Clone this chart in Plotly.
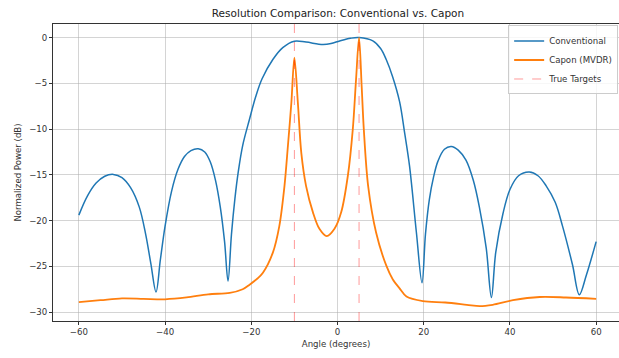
import plotly.graph_objects as go

# Conventional beamformer (angle deg, normalized power dB)
conv_angle = [-60, -58, -56, -54, -52, -50, -48, -46, -44.5, -43.3, -42.1,
              -41.1, -40, -38.5, -37, -35.5, -34, -32.3, -30.8, -29.5, -28.3, -27.2, -26.2, -25.4,
              -24.6, -23.8, -23, -22, -20.4, -19, -17.5, -15, -12.7, -10, -7.3, -3.4, -1.5, 0.5, 3, 5,
              8.2, 10, 11.3, 12.8, 14.4, 15.6, 16.7, 18.3, 19.6,
              20.4, 21.3, 22.3, 23.3, 24.8, 26.4, 28, 29.8, 31.5, 32.9, 34.5, 35.7,
              36.7, 38.4, 40, 42, 44.5, 46.5, 48.4, 50.5, 52.2, 54.5, 56.1, 57.7, 60]
conv_db = [-19.4, -17.3, -15.9, -15.15, -14.95, -15.3, -16.4, -18.5, -21.5, -24.7, -27.8,
           -24.3, -20.6, -16.8, -14.4, -13.0, -12.35, -12.15, -12.5, -13.6, -15.6, -18.5, -22.3, -26.6,
           -21.5, -17.6, -14.6, -11.8, -8.9, -6.5, -4.5, -2.4, -1.1, -0.4, -0.5, -0.75, -0.65, -0.37, -0.08, 0.0,
           -0.37, -1.2, -2.4, -4.3, -7.0, -10.5, -14.0, -21.3, -26.8,
           -21.5, -17.7, -15.2, -13.5, -12.2, -11.9, -12.3, -13.4, -15.6, -18.5, -23.0, -28.4,
           -23.5, -19.2, -16.6, -15.1, -14.7, -15.1, -16.2, -18.0, -20.6, -24.8, -28.1, -26.0, -22.3]

# Capon (MVDR) beamformer
capon_angle = [-60, -55, -50, -45, -40, -35, -30, -25, -22, -20.4, -18.5, -17.3, -15, -13.5, -12.3,
               -11.5, -10.7, -10, -9.2, -8.4, -7.3, -5.7, -4.2, -2.5, -0.7, 0.85, 2.4, 3.55, 4.3,
               5, 5.6, 6.1, 7.1, 8.95, 11.3, 12.8, 14.4, 16, 19.8, 25, 30, 33, 36, 40.7, 46.9, 53, 60]
capon_db = [-28.9, -28.7, -28.5, -28.55, -28.6, -28.4, -28.05, -27.9, -27.5, -27.0, -26.3, -25.7, -23.5, -20.6, -16.2,
            -11.8, -7.1, -2.2, -7.1, -12.6, -16.2, -19.1, -20.9, -21.7, -20.9, -19.1, -15.1, -10.0, -4.6,
            0.0, -5.3, -10.0, -16.2, -21.3, -24.9, -26.4, -27.4, -28.3, -28.8, -28.95, -29.2, -29.35, -29.2, -28.7, -28.35, -28.4, -28.55]

target_angles = [-10, 5]

x_range = [-66, 65.3]
y_range = [-30.97, 1.48]

fig = go.Figure()
fig.add_trace(go.Scatter(x=conv_angle, y=conv_db, mode="lines", name="Conventional",
                         line=dict(color="#1f77b4", width=1.5, shape="spline", smoothing=1.0)))
fig.add_trace(go.Scatter(x=capon_angle, y=capon_db, mode="lines", name="Capon (MVDR)",
                         line=dict(color="#ff7f0e", width=1.8, shape="spline", smoothing=0.9)))

tx, ty = [], []
for a in target_angles:
    tx += [a, a, None]
    ty += [y_range[0], y_range[1], None]
fig.add_trace(go.Scatter(x=tx, y=ty, mode="lines", name="True Targets",
                         line=dict(color="rgba(255,0,0,0.4)", width=1, dash="dash")))

font = "DejaVu Sans"
axis_common = dict(showgrid=True, gridcolor="rgba(170,170,170,0.5)", gridwidth=1,
                   showline=True, linecolor="#333", linewidth=1, mirror=True,
                   ticks="outside", ticklen=3, tickwidth=1, tickcolor="#333",
                   tickfont=dict(family=font, size=8.6, color="#333"), zeroline=False)

fig.update_layout(
    width=619, height=358,
    margin=dict(l=53, r=0, t=24, b=37),
    paper_bgcolor="white", plot_bgcolor="white",
    title=dict(text="Resolution Comparison: Conventional vs. Capon", x=0.546, xanchor="center",
               y=0.963, yanchor="middle", yref="container",
               font=dict(family=font, size=10.5, color="#222")),
    xaxis=dict(range=x_range, tickvals=[-60, -40, -20, 0, 20, 40, 60],
               title=dict(text="Angle (degrees)", standoff=4, font=dict(family=font, size=8.6, color="#333")),
               **axis_common),
    yaxis=dict(range=y_range, tickvals=[0, -5, -10, -15, -20, -25, -30],
               title=dict(text="Normalized Power (dB)", standoff=6, font=dict(family=font, size=8.6, color="#333")),
               **axis_common),
    legend=dict(x=0.9985, y=0.995, xanchor="right", yanchor="top",
                bgcolor="rgba(255,255,255,0.8)", bordercolor="#cccccc", borderwidth=1,
                font=dict(family=font, size=8.6, color="#333"), tracegroupgap=0),
    showlegend=True,
)

fig.write_html("out.html")
